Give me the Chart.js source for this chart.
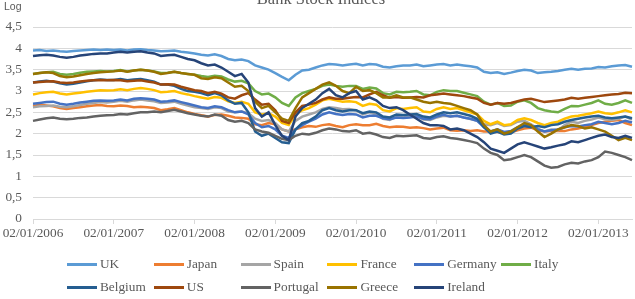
<!DOCTYPE html>
<html>
<head>
<meta charset="utf-8">
<title>Bank Stock Indices</title>
<script src="https://cdn.jsdelivr.net/npm/chart.js@4"></script>
<style>
	body { margin: 0; background: #fff; }
	#wrap { position: relative; width: 635px; height: 299px; overflow: hidden; font-family: "Liberation Serif", serif; color: #595959; }
	#wrap canvas { position: absolute; left: 0; top: 0; }
	#chartTitle { position: absolute; left: 0; width: 642px; top: -9px; text-align: center; font-size: 16.5px; line-height: 16.5px; }
	#logLabel { position: absolute; left: 4px; top: 1px; font-family: "Liberation Sans", sans-serif; font-size: 10.5px; line-height: 10.5px; }
	.legendItem { position: absolute; height: 16px; display: flex; align-items: center; font-size: 13.3px; white-space: nowrap; }
	.legendItem .mark { display: inline-block; width: 30px; height: 3px; margin-right: 3px; }
</style>
</head>
<body>
<div id="wrap">
	<canvas id="bankChart" width="635" height="299"></canvas>
	<div id="chartTitle">Bank Stock Indices</div>
	<div id="logLabel">Log</div>
	<div id="legendBox"></div>
</div>
<script>
// series names (legend order)
const countries = ["UK", "Japan", "Spain", "France", "Germany", "Italy", "Belgium", "US", "Portugal", "Greece", "Ireland"];

// x axis tick labels (one per year)
const yearTicks = ["02/01/2006", "02/01/2007", "02/01/2008", "02/01/2009", "02/01/2010", "02/01/2011", "02/01/2012", "02/01/2013"];

// y axis ticks
const yTicks = [0, 0.5, 1, 1.5, 2, 2.5, 3, 3.5, 4, 4.5];

// monthly log index values, 01/2006 - 06/2013
const uk = [
	3.95, 3.96, 3.94, 3.95, 3.93, 3.92, 3.94, 3.95, 3.96, 3.97, 3.96, 3.97,
	3.96, 3.97, 3.95, 3.97, 3.98, 3.96, 3.95, 3.93, 3.94, 3.95, 3.92, 3.90,
	3.88, 3.85, 3.83, 3.86, 3.82, 3.75, 3.72, 3.74, 3.70, 3.60, 3.55, 3.50,
	3.42, 3.33, 3.25, 3.38, 3.48, 3.50, 3.55, 3.60, 3.63, 3.62, 3.60, 3.62,
	3.64, 3.60, 3.63, 3.62, 3.57, 3.55, 3.58, 3.60, 3.60, 3.62, 3.58, 3.60,
	3.62, 3.63, 3.60, 3.62, 3.60, 3.58, 3.55, 3.45, 3.42, 3.44, 3.40, 3.43,
	3.47, 3.50, 3.48, 3.42, 3.44, 3.45, 3.47, 3.50, 3.52, 3.50, 3.52, 3.53,
	3.56, 3.55, 3.58, 3.60, 3.61, 3.57
];
const japan = [
	2.65, 2.68, 2.66, 2.64, 2.60, 2.58, 2.60, 2.62, 2.64, 2.66, 2.67, 2.65,
	2.64, 2.66, 2.65, 2.62, 2.63, 2.62, 2.60, 2.55, 2.57, 2.60, 2.55, 2.50,
	2.46, 2.43, 2.40, 2.44, 2.45, 2.42, 2.38, 2.37, 2.35, 2.22, 2.20, 2.25,
	2.22, 2.10, 2.05, 2.10, 2.15, 2.18, 2.16, 2.20, 2.22, 2.18, 2.15, 2.20,
	2.22, 2.20, 2.20, 2.23, 2.18, 2.15, 2.17, 2.16, 2.14, 2.15, 2.13, 2.10,
	2.12, 2.14, 2.08, 2.07, 2.08, 2.06, 2.08, 2.05, 2.05, 2.04, 2.02, 2.03,
	2.08, 2.12, 2.14, 2.08, 2.05, 2.06, 2.07, 2.06, 2.10, 2.12, 2.16, 2.20,
	2.25, 2.28, 2.30, 2.32, 2.25, 2.20
];
const spain = [
	2.62, 2.64, 2.65, 2.66, 2.63, 2.62, 2.64, 2.67, 2.70, 2.72, 2.74, 2.73,
	2.75, 2.77, 2.75, 2.78, 2.80, 2.78, 2.76, 2.72, 2.73, 2.75, 2.70, 2.66,
	2.62, 2.60, 2.58, 2.62, 2.60, 2.52, 2.50, 2.52, 2.48, 2.35, 2.30, 2.32,
	2.25, 2.10, 2.05, 2.30, 2.40, 2.45, 2.50, 2.58, 2.62, 2.60, 2.57, 2.58,
	2.55, 2.45, 2.50, 2.45, 2.35, 2.32, 2.40, 2.38, 2.40, 2.42, 2.33, 2.32,
	2.38, 2.42, 2.40, 2.42, 2.38, 2.34, 2.30, 2.22, 2.20, 2.25, 2.18, 2.20,
	2.28, 2.30, 2.22, 2.12, 2.05, 2.10, 2.08, 2.20, 2.28, 2.25, 2.30, 2.33,
	2.38, 2.34, 2.32, 2.35, 2.40, 2.33
];
const france = [
	2.92, 2.95, 2.97, 2.98, 2.94, 2.92, 2.94, 2.96, 2.98, 3.00, 3.02, 3.01,
	3.02, 3.04, 3.02, 3.05, 3.07, 3.05, 3.02, 2.97, 2.98, 3.00, 2.95, 2.92,
	2.88, 2.85, 2.82, 2.86, 2.84, 2.76, 2.72, 2.75, 2.70, 2.50, 2.45, 2.48,
	2.40, 2.25, 2.20, 2.45, 2.55, 2.60, 2.68, 2.78, 2.82, 2.78, 2.75, 2.76,
	2.74, 2.65, 2.70, 2.68, 2.55, 2.52, 2.60, 2.58, 2.60, 2.62, 2.52, 2.50,
	2.58, 2.62, 2.58, 2.60, 2.55, 2.50, 2.45, 2.30, 2.22, 2.28, 2.20, 2.22,
	2.32, 2.36, 2.32, 2.25, 2.20, 2.25, 2.28, 2.35, 2.40, 2.42, 2.45, 2.48,
	2.52, 2.48, 2.46, 2.50, 2.55, 2.50
];
const germany = [
	2.70, 2.72, 2.74, 2.75, 2.70, 2.68, 2.70, 2.73, 2.75, 2.77, 2.78, 2.77,
	2.78, 2.80, 2.78, 2.82, 2.83, 2.82, 2.80, 2.75, 2.76, 2.78, 2.74, 2.70,
	2.66, 2.62, 2.60, 2.64, 2.62, 2.55, 2.50, 2.52, 2.45, 2.25, 2.15, 2.18,
	2.10, 1.95, 1.90, 2.10, 2.20, 2.28, 2.35, 2.45, 2.50, 2.46, 2.44, 2.46,
	2.45, 2.38, 2.42, 2.42, 2.36, 2.34, 2.38, 2.37, 2.38, 2.40, 2.35, 2.34,
	2.40, 2.44, 2.40, 2.42, 2.38, 2.35, 2.30, 2.15, 2.05, 2.10, 2.04, 2.06,
	2.15, 2.20, 2.18, 2.10, 2.05, 2.08, 2.10, 2.15, 2.18, 2.17, 2.20, 2.22,
	2.28, 2.25, 2.22, 2.25, 2.30, 2.26
];
const italy = [
	3.40, 3.42, 3.44, 3.45, 3.40, 3.38, 3.40, 3.43, 3.45, 3.46, 3.47, 3.46,
	3.47, 3.49, 3.46, 3.48, 3.50, 3.48, 3.46, 3.42, 3.43, 3.45, 3.42, 3.40,
	3.38, 3.35, 3.33, 3.36, 3.34, 3.27, 3.22, 3.24, 3.18, 3.00, 2.92, 2.94,
	2.85, 2.72, 2.65, 2.85, 2.95, 3.00, 3.05, 3.12, 3.15, 3.12, 3.10, 3.12,
	3.12, 3.05, 3.08, 3.06, 2.95, 2.92, 2.98, 2.97, 2.98, 3.00, 2.92, 2.90,
	2.98, 3.02, 3.00, 3.00, 2.96, 2.92, 2.88, 2.75, 2.68, 2.72, 2.65, 2.66,
	2.75, 2.78, 2.72, 2.60, 2.55, 2.52, 2.50, 2.58, 2.65, 2.64, 2.68, 2.72,
	2.78, 2.70, 2.68, 2.72, 2.78, 2.72
];
const belgium = [
	3.20, 3.22, 3.24, 3.22, 3.18, 3.15, 3.17, 3.20, 3.23, 3.25, 3.27, 3.26,
	3.26, 3.28, 3.25, 3.27, 3.28, 3.25, 3.22, 3.15, 3.15, 3.12, 3.05, 3.00,
	2.98, 2.95, 2.90, 2.95, 2.90, 2.78, 2.70, 2.72, 2.50, 2.05, 1.95, 2.00,
	1.90, 1.80, 1.78, 2.10, 2.25, 2.30, 2.40, 2.55, 2.60, 2.55, 2.52, 2.55,
	2.55, 2.48, 2.52, 2.50, 2.40, 2.38, 2.45, 2.44, 2.45, 2.46, 2.40, 2.38,
	2.45, 2.50, 2.48, 2.50, 2.46, 2.42, 2.35, 2.15, 2.00, 2.05, 1.98, 2.00,
	2.12, 2.18, 2.15, 2.18, 2.15, 2.20, 2.22, 2.28, 2.32, 2.35, 2.38, 2.40,
	2.42, 2.38, 2.36, 2.38, 2.40, 2.36
];
const us = [
	3.20, 3.21, 3.22, 3.23, 3.20, 3.19, 3.20, 3.22, 3.24, 3.25, 3.26, 3.25,
	3.26, 3.25, 3.23, 3.24, 3.25, 3.22, 3.20, 3.15, 3.16, 3.15, 3.10, 3.06,
	3.02, 3.00, 2.95, 2.98, 2.94, 2.85, 2.82, 2.90, 2.95, 2.80, 2.68, 2.70,
	2.55, 2.30, 2.25, 2.50, 2.65, 2.68, 2.72, 2.80, 2.85, 2.82, 2.82, 2.84,
	2.86, 2.85, 2.92, 2.98, 2.90, 2.84, 2.86, 2.84, 2.85, 2.86, 2.85, 2.90,
	2.92, 2.94, 2.92, 2.90, 2.88, 2.85, 2.82, 2.72, 2.68, 2.72, 2.70, 2.72,
	2.76, 2.80, 2.82, 2.78, 2.74, 2.76, 2.78, 2.80, 2.84, 2.82, 2.84, 2.86,
	2.88, 2.90, 2.92, 2.93, 2.96, 2.95
];
const portugal = [
	2.30, 2.33, 2.36, 2.38, 2.35, 2.34, 2.35, 2.37, 2.38, 2.40, 2.42, 2.43,
	2.44, 2.46, 2.45, 2.48, 2.50, 2.50, 2.52, 2.50, 2.53, 2.56, 2.52, 2.48,
	2.45, 2.42, 2.40, 2.45, 2.42, 2.32, 2.28, 2.30, 2.25, 2.10, 2.05, 2.02,
	1.95, 1.88, 1.85, 1.95, 2.00, 1.98, 2.02, 2.08, 2.12, 2.10, 2.06, 2.05,
	2.08, 2.00, 2.02, 1.98, 1.92, 1.90, 1.95, 1.94, 1.95, 1.96, 1.90, 1.88,
	1.92, 1.94, 1.90, 1.88, 1.85, 1.82, 1.78, 1.65, 1.55, 1.50, 1.38, 1.40,
	1.45, 1.50, 1.45, 1.35, 1.25, 1.20, 1.22, 1.28, 1.32, 1.30, 1.35, 1.38,
	1.45, 1.58, 1.55, 1.50, 1.45, 1.38
];
const greece = [
	3.40, 3.42, 3.44, 3.42, 3.35, 3.32, 3.34, 3.37, 3.40, 3.42, 3.44, 3.45,
	3.46, 3.48, 3.45, 3.48, 3.50, 3.48, 3.45, 3.40, 3.42, 3.45, 3.42, 3.40,
	3.38, 3.30, 3.28, 3.32, 3.30, 3.20, 3.10, 3.12, 3.00, 2.75, 2.60, 2.65,
	2.50, 2.35, 2.30, 2.60, 2.85, 2.95, 3.05, 3.15, 3.20, 3.12, 3.00, 2.95,
	3.10, 3.00, 3.02, 2.95, 2.85, 2.85, 2.90, 2.85, 2.85, 2.80, 2.75, 2.72,
	2.75, 2.72, 2.70, 2.65, 2.60, 2.55, 2.45, 2.20, 2.05, 2.10, 2.00, 2.05,
	2.15, 2.25, 2.20, 2.05, 1.92, 2.00, 2.10, 2.15, 2.20, 2.18, 2.12, 2.15,
	2.10, 2.05, 1.95, 1.85, 1.90, 1.85
];
const ireland = [
	3.82, 3.84, 3.85, 3.83, 3.80, 3.78, 3.80, 3.83, 3.85, 3.87, 3.88, 3.88,
	3.90, 3.92, 3.90, 3.92, 3.93, 3.90, 3.88, 3.82, 3.84, 3.85, 3.80, 3.75,
	3.72, 3.65, 3.60, 3.62, 3.55, 3.45, 3.35, 3.40, 3.20, 2.60, 2.40, 2.50,
	2.20, 1.95, 1.85, 2.40, 2.60, 2.70, 2.80, 2.95, 3.05, 2.90, 2.85, 2.95,
	3.00, 2.80, 2.85, 2.78, 2.65, 2.60, 2.62, 2.55, 2.45, 2.35, 2.25, 2.20,
	2.20, 2.18, 2.10, 2.12, 2.08, 2.00, 1.92, 1.80, 1.65, 1.60, 1.55, 1.65,
	1.75, 1.80, 1.75, 1.70, 1.65, 1.68, 1.72, 1.75, 1.82, 1.80, 1.85, 1.90,
	1.95, 1.98, 1.92, 1.90, 1.95, 1.90
];

const seriesValues = [uk, japan, spain, france, germany, italy, belgium, us, portugal, greece, ireland];

// Excel default palette
const lineColors = ["#5B9BD5", "#ED7D31", "#A5A5A5", "#FFC000", "#4472C4", "#70AD47", "#255E91", "#9E480E", "#636363", "#997300", "#264478"];

// monthly categories, labelled dd/mm/yyyy
let months = [];
for (let i = 0; i < uk.length; i++) {
	let year = 2006 + Math.floor(i / 12);
	let mm = String(i % 12 + 1).padStart(2, "0");
	months.push("02/" + mm + "/" + year);
}

const tickFont = { family: "Liberation Serif", size: 13.3 };

let ctx = document.getElementById("bankChart").getContext("2d");
let bankChart = new Chart(ctx, {
	type: "line",
	data: {
		labels: months,
		datasets: countries.map((name, i) => ({
			label: name,
			data: seriesValues[i],
			borderColor: lineColors[i],
			backgroundColor: lineColors[i],
			borderWidth: 2.5,
			pointRadius: 0,
			tension: 0,
			fill: false,
			// later series on top, like Excel
			order: countries.length - i
		}))
	},
	options: {
		responsive: false,
		animation: false,
		layout: { padding: { left: 0, right: 3, top: 27, bottom: 0 } },
		plugins: {
			legend: { display: false },
			tooltip: { enabled: false }
		},
		scales: {
			x: {
				type: "category",
				offset: false,
				grid: {
					drawOnChartArea: false,
					drawTicks: true,
					tickLength: 5,
					color: (c) => (yearTicks.includes(months[c.index]) ? "#d9d9d9" : "rgba(0,0,0,0)")
				},
				border: { color: "#d9d9d9" },
				ticks: {
					autoSkip: false,
					maxRotation: 0,
					minRotation: 0,
					padding: 2,
					color: "#595959",
					font: tickFont,
					callback: (v, i) => (yearTicks.includes(months[i]) ? months[i] : "")
				},
				afterFit: (scale) => { scale.height = 80; }
			},
			y: {
				min: yTicks[0],
				max: yTicks[yTicks.length - 1],
				ticks: {
					stepSize: 0.5,
					padding: 11,
					color: "#595959",
					font: tickFont,
					callback: (v) => String(v).replace(".", ",")
				},
				grid: { color: "#d9d9d9", drawTicks: false },
				border: { display: false },
				afterFit: (scale) => { scale.width = 33; }
			}
		}
	}
});

// legend: 6 fixed columns, 2 rows
let legendBox = document.getElementById("legendBox");
countries.forEach((name, i) => {
	let item = document.createElement("div");
	item.className = "legendItem";
	item.style.left = (67 + (i % 6) * 86.8) + "px";
	item.style.top = (i < 6 ? 256 : 279) + "px";
	let mark = document.createElement("span");
	mark.className = "mark";
	mark.style.background = lineColors[i];
	item.appendChild(mark);
	item.appendChild(document.createTextNode(name));
	legendBox.appendChild(item);
});
</script>
</body>
</html>
